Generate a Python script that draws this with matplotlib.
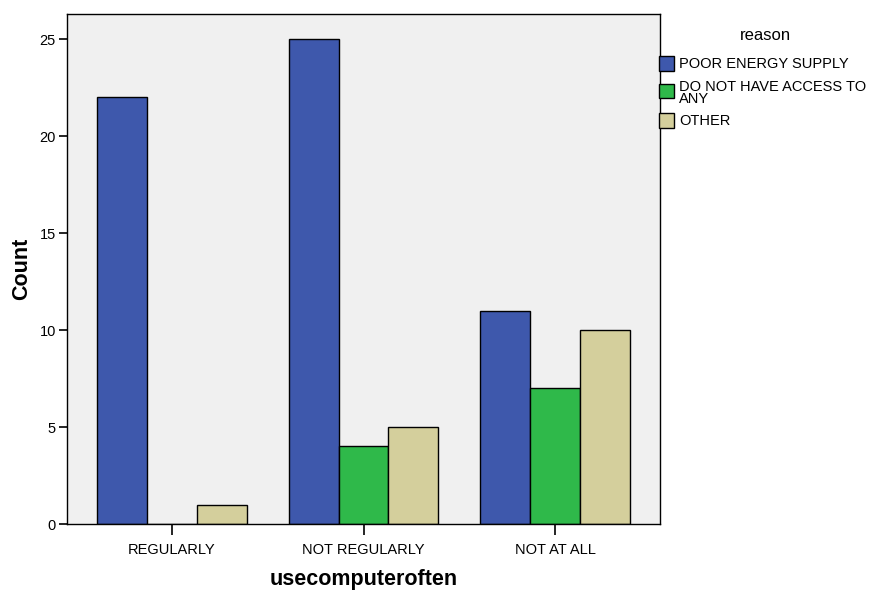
import matplotlib
matplotlib.use("Agg")
import matplotlib.pyplot as plt
import numpy as np
from matplotlib.patches import Rectangle

# data
categories = ["REGULARLY", "NOT REGULARLY", "NOT AT ALL"]
reasons = ["POOR ENERGY SUPPLY", "DO NOT HAVE ACCESS TO\nANY", "OTHER"]
poor_energy = [22, 25, 11]
no_access = [0, 4, 7]
other = [1, 5, 10]

colors = ["#3e58ac", "#2fb94a", "#d4cf9c"]

plt.rcParams["font.family"] = ["Liberation Sans", "DejaVu Sans"]

W, H = 871, 592
fig = plt.figure(figsize=(W / 100, H / 100), dpi=100)
fig.patch.set_facecolor("white")
ax = fig.add_axes([67 / W, (H - 524) / H, (660 - 67) / W, (524 - 14) / H])
ax.set_facecolor("#f0f0f0")

x = np.arange(len(categories))
bw = 0.261
for i, (vals, col) in enumerate(zip([poor_energy, no_access, other], colors)):
    ax.bar(x + (i - 1) * bw, vals, width=bw, color=col, edgecolor="black",
           linewidth=1.0, zorder=2)

ax.set_xlim(-0.548, 2.548)
ax.set_ylim(0, 26.29)
ax.set_yticks([0, 5, 10, 15, 20, 25])
ax.set_xticks(x)
ax.set_xticklabels(categories)
ax.tick_params(axis="y", direction="out", length=6, width=1.2, labelsize=10.5, pad=2)
ax.tick_params(axis="x", direction="out", length=8, width=1.2, labelsize=10.5, pad=6)
for s in ax.spines.values():
    s.set_linewidth(1.0)
    s.set_color("black")

ax.set_xlabel("usecomputeroften", fontsize=15.5, fontweight="bold", labelpad=8)
ax.set_ylabel("Count", fontsize=15.5, fontweight="bold", labelpad=5)

# legend drawn outside the axes on the right
fig.text(765 / W, 1 - 35 / H, "reason", fontsize=12, ha="center", va="center")
patch_y = [(56, 71), (84, 98), (113, 128)]
text_y = [64, 93, 121]
for lbl, col, (y0, y1), ty in zip(reasons, colors, patch_y, text_y):
    fig.patches.append(Rectangle((659 / W, 1 - y1 / H), 15 / W, (y1 - y0) / H,
                                 transform=fig.transFigure, facecolor=col,
                                 edgecolor="black", linewidth=1.0))
    fig.text(679 / W, 1 - ty / H, lbl, fontsize=10.5, ha="left", va="center",
             linespacing=0.85)

fig.savefig("out.png", dpi=100)
